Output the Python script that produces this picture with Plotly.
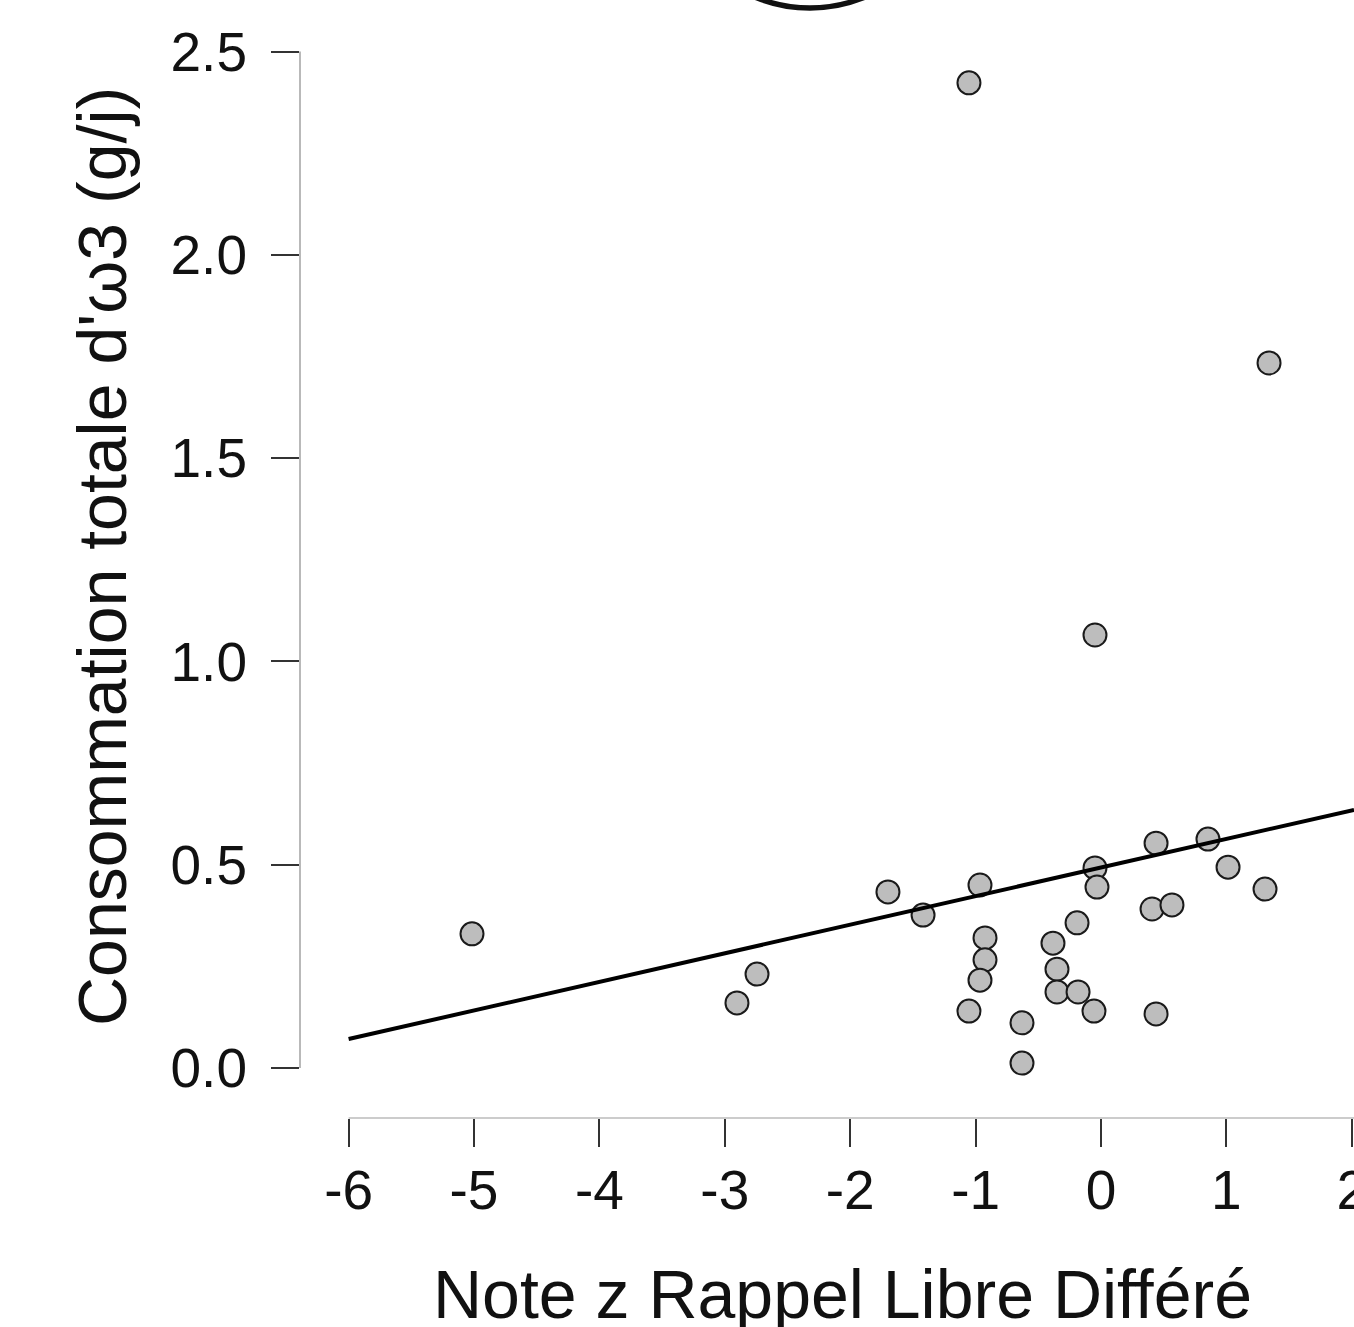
import plotly.graph_objects as go

# Data
rappel_z = [-1.053, 1.340, -0.048, -5.016, -2.903, -2.743, -1.699, -1.419,
            -0.965, -0.925, -0.925, -0.965, -1.053, -0.630, -0.630, -0.383,
            -0.351, -0.351, -0.183, -0.191, -0.056, -0.048, -0.032, 0.439,
            0.407, 0.566, 0.439, 0.853, 1.013, 1.308]
omega3 = [2.423, 1.734, 1.065, 0.330, 0.160, 0.231, 0.433, 0.376,
          0.450, 0.320, 0.266, 0.216, 0.140, 0.111, 0.012, 0.307,
          0.243, 0.187, 0.187, 0.357, 0.140, 0.492, 0.445, 0.553,
          0.391, 0.401, 0.133, 0.563, 0.494, 0.440]

fit_intercept = 0.493
fit_slope = 0.0703

x_ticks = [-6, -5, -4, -3, -2, -1, 0, 1, 2]
x_tick_labels = ["-6", "-5", "-4", "-3", "-2", "-1", "0", "1", "2"]
y_ticks = [0.0, 0.5, 1.0, 1.5, 2.0, 2.5]
y_tick_labels = ["0.0", "0.5", "1.0", "1.5", "2.0", "2.5"]

x_title = "Note z Rappel Libre Différé"
y_title = "Consommation totale d'ω3 (g/j)"

X_RANGE = [-6.3876, 2.0175]
Y_RANGE = [-0.1230, 2.6267]

FONT = "Liberation Sans, Arial, Helvetica, sans-serif"

fig = go.Figure()

fig.add_trace(go.Scatter(
    x=rappel_z, y=omega3, mode="markers",
    marker=dict(size=23, color="#bdbdbd", line=dict(color="#1a1a1a", width=2)),
    showlegend=False, hoverinfo="x+y",
))

line_x = [x_ticks[0], X_RANGE[1]]
line_y = [fit_intercept + fit_slope * v for v in line_x]
fig.add_trace(go.Scatter(
    x=line_x, y=line_y, mode="lines",
    line=dict(color="black", width=4),
    showlegend=False, hoverinfo="skip",
))

axis_common = dict(
    showgrid=False, zeroline=False, showline=False,
    ticks="outside", ticklen=28, tickwidth=1.5, tickcolor="#333333",
    tickfont=dict(family=FONT, size=55, color="#111111"),
    ticklabeloverflow="allow", automargin=False,
)

fig.update_xaxes(range=X_RANGE, tickmode="array", tickvals=x_ticks,
                 ticktext=x_tick_labels, ticklabelstandoff=-4, **axis_common)
fig.update_yaxes(range=Y_RANGE, tickmode="array", tickvals=y_ticks,
                 ticktext=y_tick_labels, ticklabelstandoff=13, **axis_common)

# R-style detached axis lines
fig.add_shape(type="line", xref="paper", yref="y", x0=0, x1=0,
              y0=y_ticks[0], y1=y_ticks[-1], line=dict(color="#8a8a8a", width=1.2))
fig.add_shape(type="line", xref="x", yref="paper", x0=x_ticks[0], x1=X_RANGE[1],
              y0=0, y1=0, line=dict(color="#9a9a9a", width=1.2))

# partial circle decoration at the top (cropped in the reference)
fig.add_shape(type="circle", xref="paper", yref="paper",
              x0=0.3482, x1=0.6195, y0=0.9928, y1=1.2487,
              line=dict(color="#111111", width=5.5))

fig.add_annotation(text=x_title, xref="paper", yref="paper",
                   x=(842 - 300) / 1054, y=-(1294 - 1118) / 1118,
                   xanchor="center", yanchor="middle", showarrow=False,
                   font=dict(family=FONT, size=68, color="#111111"))
fig.add_annotation(text=y_title, xref="paper", yref="paper",
                   x=(102 - 300) / 1054, y=(1118 - 557) / 1118,
                   xanchor="center", yanchor="middle", showarrow=False, textangle=-90,
                   font=dict(family=FONT, size=68, color="#111111"))

fig.update_layout(
    width=1354, height=1327,
    margin=dict(l=300, r=0, t=0, b=209, autoexpand=False),
    plot_bgcolor="white", paper_bgcolor="white",
    showlegend=False,
)

fig.write_html("out.html")
